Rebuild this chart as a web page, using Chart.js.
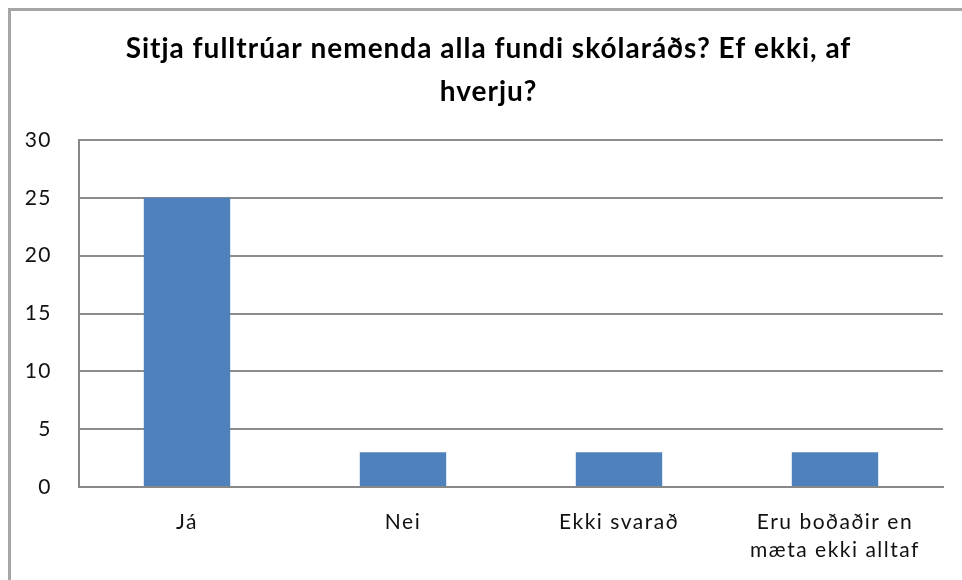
<!DOCTYPE html>
<html>
<head>
<meta charset="utf-8">
<script src="https://cdn.jsdelivr.net/npm/chart.js@4"></script>
<style>
  html, body { margin: 0; padding: 0; background: #fff; }
  #wrap { position: relative; width: 962px; height: 580px; overflow: hidden; }
  #frame { position: absolute; left: 8px; top: 8px; width: 980px; height: 600px; border: 3px solid #a6a6a6; box-sizing: border-box; }
  canvas { position: absolute; left: 0; top: 0; }
</style>
</head>
<body>
<div id="wrap">
  <div id="frame"></div>
  <canvas id="c" width="962" height="580"></canvas>
</div>
<script>
const titleLines = ["Sitja fulltrúar nemenda alla fundi skólaráðs? Ef ekki, af", "hverju?"];
const categories = [["Já"], ["Nei"], ["Ekki svarað"], ["Eru boðaðir en", "mæta ekki alltaf"]];
const values = [25, 3, 3, 3];
const yMin = 0, yMax = 30, yStep = 5;

// wider letter spacing, like the reference's rendering
(function () {
  const proto = CanvasRenderingContext2D.prototype;
  const fill = proto.fillText, measure = proto.measureText;
  function spacing(ctx) { ctx.letterSpacing = /bold/.test(ctx.font) ? '1px' : '1.5px'; }
  proto.fillText = function () { spacing(this); return fill.apply(this, arguments); };
  proto.measureText = function () { spacing(this); return measure.apply(this, arguments); };
})();

new Chart(document.getElementById('c'), {
  type: 'bar',
  data: {
    labels: categories,
    datasets: [{
      data: values,
      backgroundColor: '#4f81bd',
      borderWidth: 0,
      categoryPercentage: 1.0,
      barPercentage: 0.4
    }]
  },
  options: {
    responsive: false,
    animation: false,
    devicePixelRatio: 1,
    layout: { padding: { left: 15, right: 0, top: 0, bottom: 0 } },
    plugins: {
      legend: { display: false },
      tooltip: { enabled: false },
      title: {
        display: true,
        text: titleLines,
        color: '#000',
        font: { family: 'Lato', size: 28, weight: 'bold', lineHeight: 1.536 },
        padding: { top: 27, bottom: 27 }
      }
    },
    scales: {
      x: {
        grid: { display: false, drawTicks: false },
        border: { display: true, color: '#888', width: 2 },
        ticks: { color: '#111', font: { family: 'Lato', size: 21, lineHeight: 1.333 }, padding: 21, maxRotation: 0, autoSkip: false },
        afterFit(scale) { scale.height = 93; }
      },
      y: {
        min: yMin, max: yMax,
        grid: { color: '#8c8c8c', lineWidth: 2, drawTicks: false },
        border: { display: true, color: '#888', width: 2 },
        ticks: { stepSize: yStep, color: '#111', font: { family: 'Lato', size: 21 }, padding: 27 },
        afterFit(scale) { scale.width = 64; }
      },
      yRight: {
        position: 'right',
        display: true,
        grid: { display: false, drawTicks: false },
        border: { display: false },
        ticks: { display: false },
        afterFit(scale) { scale.width = 19; }
      }
    }
  }
});
</script>
</body>
</html>
